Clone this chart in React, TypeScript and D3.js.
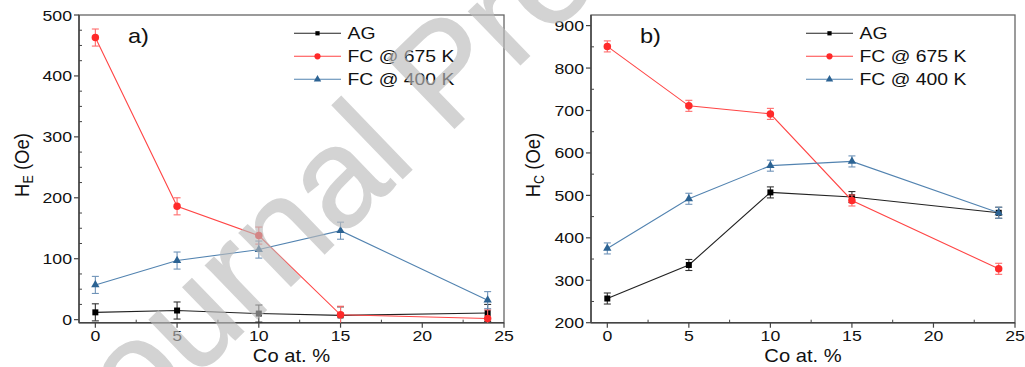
import React from "react";
import * as d3 from "d3";

// ---- data ----
const coPct = [0, 5, 10, 15, 24];
const heAG = [12, 15, 10, 7, 11];
const heFC675 = [463, 186, 138, 8, 2];
const heFC400 = [57, 97, 115, 146, 32];
const heErr = [14, 14, 14, 14, 14];
const hcAG = [257, 336, 507, 496, 459];
const hcFC675 = [851, 711, 692, 488, 327];
const hcFC400 = [375, 492, 570, 580, 459];
const hcErr = [13, 13, 13, 13, 13];
const seriesNames = ["AG", "FC @ 675 K", "FC @ 400 K"];
const xTicks = [0, 5, 10, 15, 20, 25];
const heTicks = [0, 100, 200, 300, 400, 500];
const hcTicks = [200, 300, 400, 500, 600, 700, 800, 900];

const FONT = "'Liberation Sans', Arial, Helvetica, sans-serif";
const SX = 1.14;

const styles = [
  { line: "#222", marker: "#000", err: "#333", sym: d3.symbolSquare, size: 36, lsize: 18 },
  { line: "#ff4545", marker: "#ff2a2a", err: "#ff6a6a", sym: d3.symbolCircle, size: 44, lsize: 30 },
  { line: "#5283b0", marker: "#2c6393", err: "#6f93b8", sym: d3.symbolTriangle, size: 30, lsize: 24 },
];

function T({ x, y, size, anchor = "start", children, sx = SX, fill = "#111" }: any) {
  return (
    <text
      transform={`translate(${x},${y}) scale(${sx},1)`}
      fontSize={size}
      fontFamily={FONT}
      textAnchor={anchor}
      fill={fill}
    >
      {children}
    </text>
  );
}

function Panel({ x0, x1, y0, y1, ydom, yTicks, minorStep, series, err, label, ylab, sub, legX }: any) {
  const xs = d3.scaleLinear().domain([-1, 25]).range([x0, x1]);
  const ys = d3.scaleLinear().domain(ydom).range([y1, y0]);
  const minorX = d3.range(2.5, 25, 5);
  const minorY = d3
    .range(ydom[0] <= 0 ? 0 : ydom[0], ydom[1] + 0.1, minorStep)
    .filter((v: number) => !yTicks.includes(v) && v >= ydom[0] && v <= ydom[1]);
  const line = d3
    .line<number>()
    .x((_, i) => xs(coPct[i]))
    .y((d) => ys(d));
  const axisCol = "#444";
  return (
    <g>
      <rect x={x0} y={y0} width={x1 - x0} height={y1 - y0} fill="none" stroke="#666" strokeWidth={1.3} />
      <line x1={x0} x2={x0} y1={y0} y2={y1} stroke={axisCol} strokeWidth={1.5} />
      <line x1={x0} x2={x1} y1={y1} y2={y1} stroke={axisCol} strokeWidth={1.5} />
      {xTicks.map((t) => (
        <g key={"xt" + t}>
          <line x1={xs(t)} x2={xs(t)} y1={y1} y2={y1 + 5} stroke={axisCol} strokeWidth={1.2} />
          <T x={xs(t)} y={y1 + 18} size={15.5} anchor="middle">{t}</T>
        </g>
      ))}
      {minorX.map((t: number) => (
        <line key={"xm" + t} x1={xs(t)} x2={xs(t)} y1={y1} y2={y1 - 3} stroke={axisCol} strokeWidth={1} />
      ))}
      {yTicks.map((t: number) => (
        <g key={"yt" + t}>
          <line x1={x0 - 5} x2={x0} y1={ys(t)} y2={ys(t)} stroke={axisCol} strokeWidth={1.2} />
          <T x={x0 - 7} y={ys(t) + 5.5} size={15.5} anchor="end">{t}</T>
        </g>
      ))}
      {minorY.map((t: number) => (
        <line key={"ym" + t} x1={x0} x2={x0 + 3} y1={ys(t)} y2={ys(t)} stroke={axisCol} strokeWidth={1} />
      ))}
      {series.map((vals: number[], si: number) => {
        const st = styles[si];
        const path = d3.symbol().type(st.sym).size(st.size)();
        return (
          <g key={"s" + si}>
            <path d={line(vals) || ""} fill="none" stroke={st.line} strokeWidth={1.1} />
            {vals.map((v, i) => {
              const cx = xs(coPct[i]);
              const top = ys(v + err[i]);
              const bot = Math.min(ys(v - err[i]), y1);
              return (
                <g key={i}>
                  <line x1={cx} x2={cx} y1={top} y2={bot} stroke={st.err} strokeWidth={1.1} />
                  <line x1={cx - 3.5} x2={cx + 3.5} y1={top} y2={top} stroke={st.err} strokeWidth={1.1} />
                  {ys(v - err[i]) <= y1 && (
                    <line x1={cx - 3.5} x2={cx + 3.5} y1={bot} y2={bot} stroke={st.err} strokeWidth={1.1} />
                  )}
                  <path d={path || ""} transform={`translate(${cx},${ys(v)})`} fill={st.marker} />
                </g>
              );
            })}
          </g>
        );
      })}
      {seriesNames.map((n, si) => {
        const st = styles[si];
        const ly = 33.3 + si * 23;
        const path = d3.symbol().type(st.sym).size(st.lsize)();
        return (
          <g key={"lg" + si}>
            <line x1={legX} x2={legX + 47} y1={ly} y2={ly} stroke={st.line} strokeWidth={1.1} />
            <path d={path || ""} transform={`translate(${legX + 23.5},${ly})`} fill={st.marker} />
            <T x={legX + 53.5} y={ly + 6} size={17}>{n}</T>
          </g>
        );
      })}
      <T x={x0 + 49} y={42.5} size={20} sx={1.18}>{label}</T>
      <text
        transform={`translate(${xs(12)},362) scale(1.12,1)`}
        fontSize={18}
        fontFamily={FONT}
        textAnchor="middle"
        fill="#111"
      >
        Co at. %
      </text>
      <text
        transform={`translate(${ylab},165) rotate(-90) scale(1,1.12)`}
        fontSize={18.5}
        fontFamily={FONT}
        textAnchor="middle"
        fill="#111"
      >
        H<tspan fontSize={12.5} dy={4}>{sub}</tspan>
        <tspan dy={-4}> (Oe)</tspan>
      </text>
    </g>
  );
}

export default function App() {
  return (
    <svg
      width={1025}
      height={367}
      style={{ position: "absolute", left: 0, top: 0, background: "#fff" }}
    >
      <rect width={1025} height={367} fill="#fff" />
      <Panel
        x0={79}
        x1={504}
        y0={15}
        y1={322.7}
        ydom={[-5, 500]}
        yTicks={heTicks}
        minorStep={25}
        series={[heAG, heFC675, heFC400]}
        err={heErr}
        label="a)"
        ylab={29}
        sub="E"
        legX={294}
      />
      <Panel
        x0={591}
        x1={1015}
        y0={15}
        y1={322.7}
        ydom={[200, 925]}
        yTicks={hcTicks}
        minorStep={50}
        series={[hcAG, hcFC675, hcFC400]}
        err={hcErr}
        label="b)"
        ylab={540}
        sub="C"
        legX={806}
      />
      <text
        transform="translate(88,482) rotate(-44)"
        fontSize={140}
        fontFamily={FONT}
        fill="#bbbbbb"
        stroke="#bbbbbb"
        strokeWidth={1.5}
        opacity={0.64}
      >
        Journal Pre-proof
      </text>
    </svg>
  );
}
